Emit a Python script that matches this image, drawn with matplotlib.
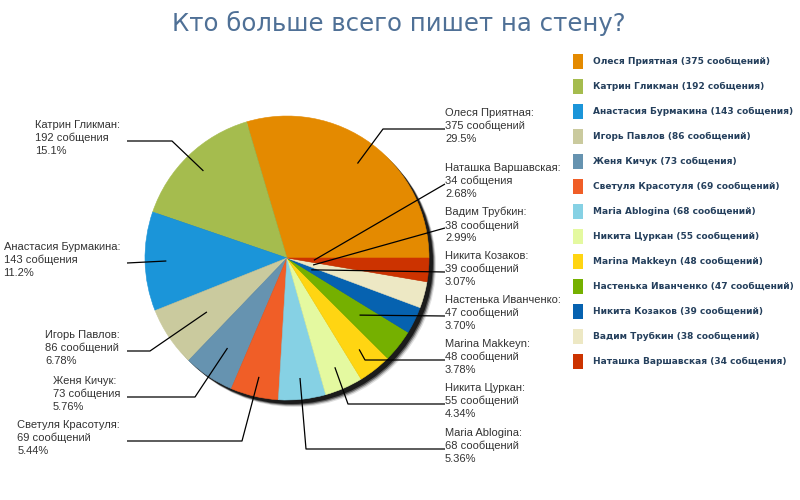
import math
import numpy as np
import matplotlib
matplotlib.use('Agg')
import matplotlib.pyplot as plt
from matplotlib.patches import Circle, Rectangle

# ==> Data
names = ['Олеся Приятная', 'Катрин Гликман', 'Анастасия Бурмакина', 'Игорь Павлов',
         'Женя Кичук', 'Светуля Красотуля', 'Maria Ablogina', 'Никита Цуркан',
         'Marina Makkeyn', 'Настенька Иванченко', 'Никита Козаков', 'Вадим Трубкин',
         'Наташка Варшавская']
counts = [375, 192, 143, 86, 73, 69, 68, 55, 48, 47, 39, 38, 34]
words = ['сообщений', 'собщения', 'собщения', 'сообщений', 'собщения', 'сообщений',
         'сообщений', 'сообщений', 'сообщений', 'сообщений', 'сообщений', 'сообщений',
         'собщения']
colors = ['#E48A00', '#A5BC4E', '#1B95D9', '#CACA9E', '#6693B0', '#F05E27',
          '#86D1E4', '#E4F9A0', '#FFD512', '#75B000', '#0662B0', '#EDE8C4', '#CC3300']

title = 'Кто больше всего пишет на стену?'

# ==> Layout of the callouts (pixel coords from top-left)
# side, y of first text line, elbow x, anchor radius fraction
label_side = ['R', 'L', 'L', 'L', 'L', 'L', 'R', 'R', 'R', 'R', 'R', 'R', 'R']
label_top = [115, 127, 249, 337, 383, 427, 435, 390, 346, 302, 258, 214, 170]
label_elbow = [383, 172, None, 150, 195, 242, 306, 348, 365, None, None, None, None]
anchor_r = [0.83, 0.85, 0.85, 0.68, 0.76, 0.86, 0.85, 0.84, 0.82, 0.65, 0.19, 0.19, 0.19]

W, H = 800, 500
cx, cy, R = 287, 500 - 258, 142


def pct_text(v, total):
    p = v / total * 100
    if p >= 10:
        return '%.1f%%' % (math.floor(p * 10) / 10)
    return '%.2f%%' % (math.floor(p * 100) / 100)


fig = plt.figure(figsize=(8, 5), dpi=100)
ax = fig.add_axes([0, 0, 1, 1])
ax.set_xlim(0, W)
ax.set_ylim(0, H)
ax.set_aspect('equal')
ax.axis('off')

# shadow
for off, a in [(7, 0.12), (6, 0.25), (5, 0.45), (4, 0.7)]:
    ax.add_patch(Circle((cx + off, cy - off), R, color='black', alpha=a, lw=0, zorder=1))

wedges, _ = ax.pie(counts, colors=colors, startangle=0, counterclock=True,
                   center=(cx, cy), radius=R, frame=True,
                   wedgeprops=dict(linewidth=0))
for w, c in zip(wedges, colors):
    w.set_zorder(2)
    w.set_edgecolor(c)
    w.set_linewidth(0.4)
ax.set_xlim(0, W)
ax.set_ylim(0, H)
ax.axis('off')

total = sum(counts)
lab_font = dict(family='Liberation Sans', fontsize=8, color='#333333', linespacing=1.32)
for i, w in enumerate(wedges):
    mid = math.radians((w.theta1 + w.theta2) / 2)
    axp = cx + anchor_r[i] * R * math.cos(mid)
    ayp = cy + anchor_r[i] * R * math.sin(mid)
    label = '%s:\n%d %s\n%s' % (names[i], counts[i], words[i], pct_text(counts[i], total))
    ytop = H - label_top[i] + 7
    yline = H - label_top[i] - 14
    if label_side[i] == 'L':
        ax.text(120, ytop, label, ha='right', va='top', multialignment='left', **lab_font)
        x0 = 127
    else:
        ax.text(445, ytop, label, ha='left', va='top', **lab_font)
        x0 = 445
    ex = label_elbow[i] if label_elbow[i] is not None else x0
    ax.plot([x0, ex, axp], [yline, yline, ayp], color='black', lw=0.9, zorder=3,
            solid_capstyle='butt')

# title
ax.text(399, H - 31, title, ha='center', va='baseline', fontsize=17.6, color='#4F7096')

# legend
for i in range(len(names)):
    yc = H - (61 + 25 * i)
    ax.add_patch(Rectangle((573, yc - 7.5), 10, 15, color=colors[i], lw=0, zorder=3))
    ax.text(593, yc, '%s (%d %s)' % (names[i], counts[i], words[i]), ha='left',
            va='center', fontsize=6.5, fontweight='bold', color='#243F5C')

fig.savefig('out.png', dpi=100)
